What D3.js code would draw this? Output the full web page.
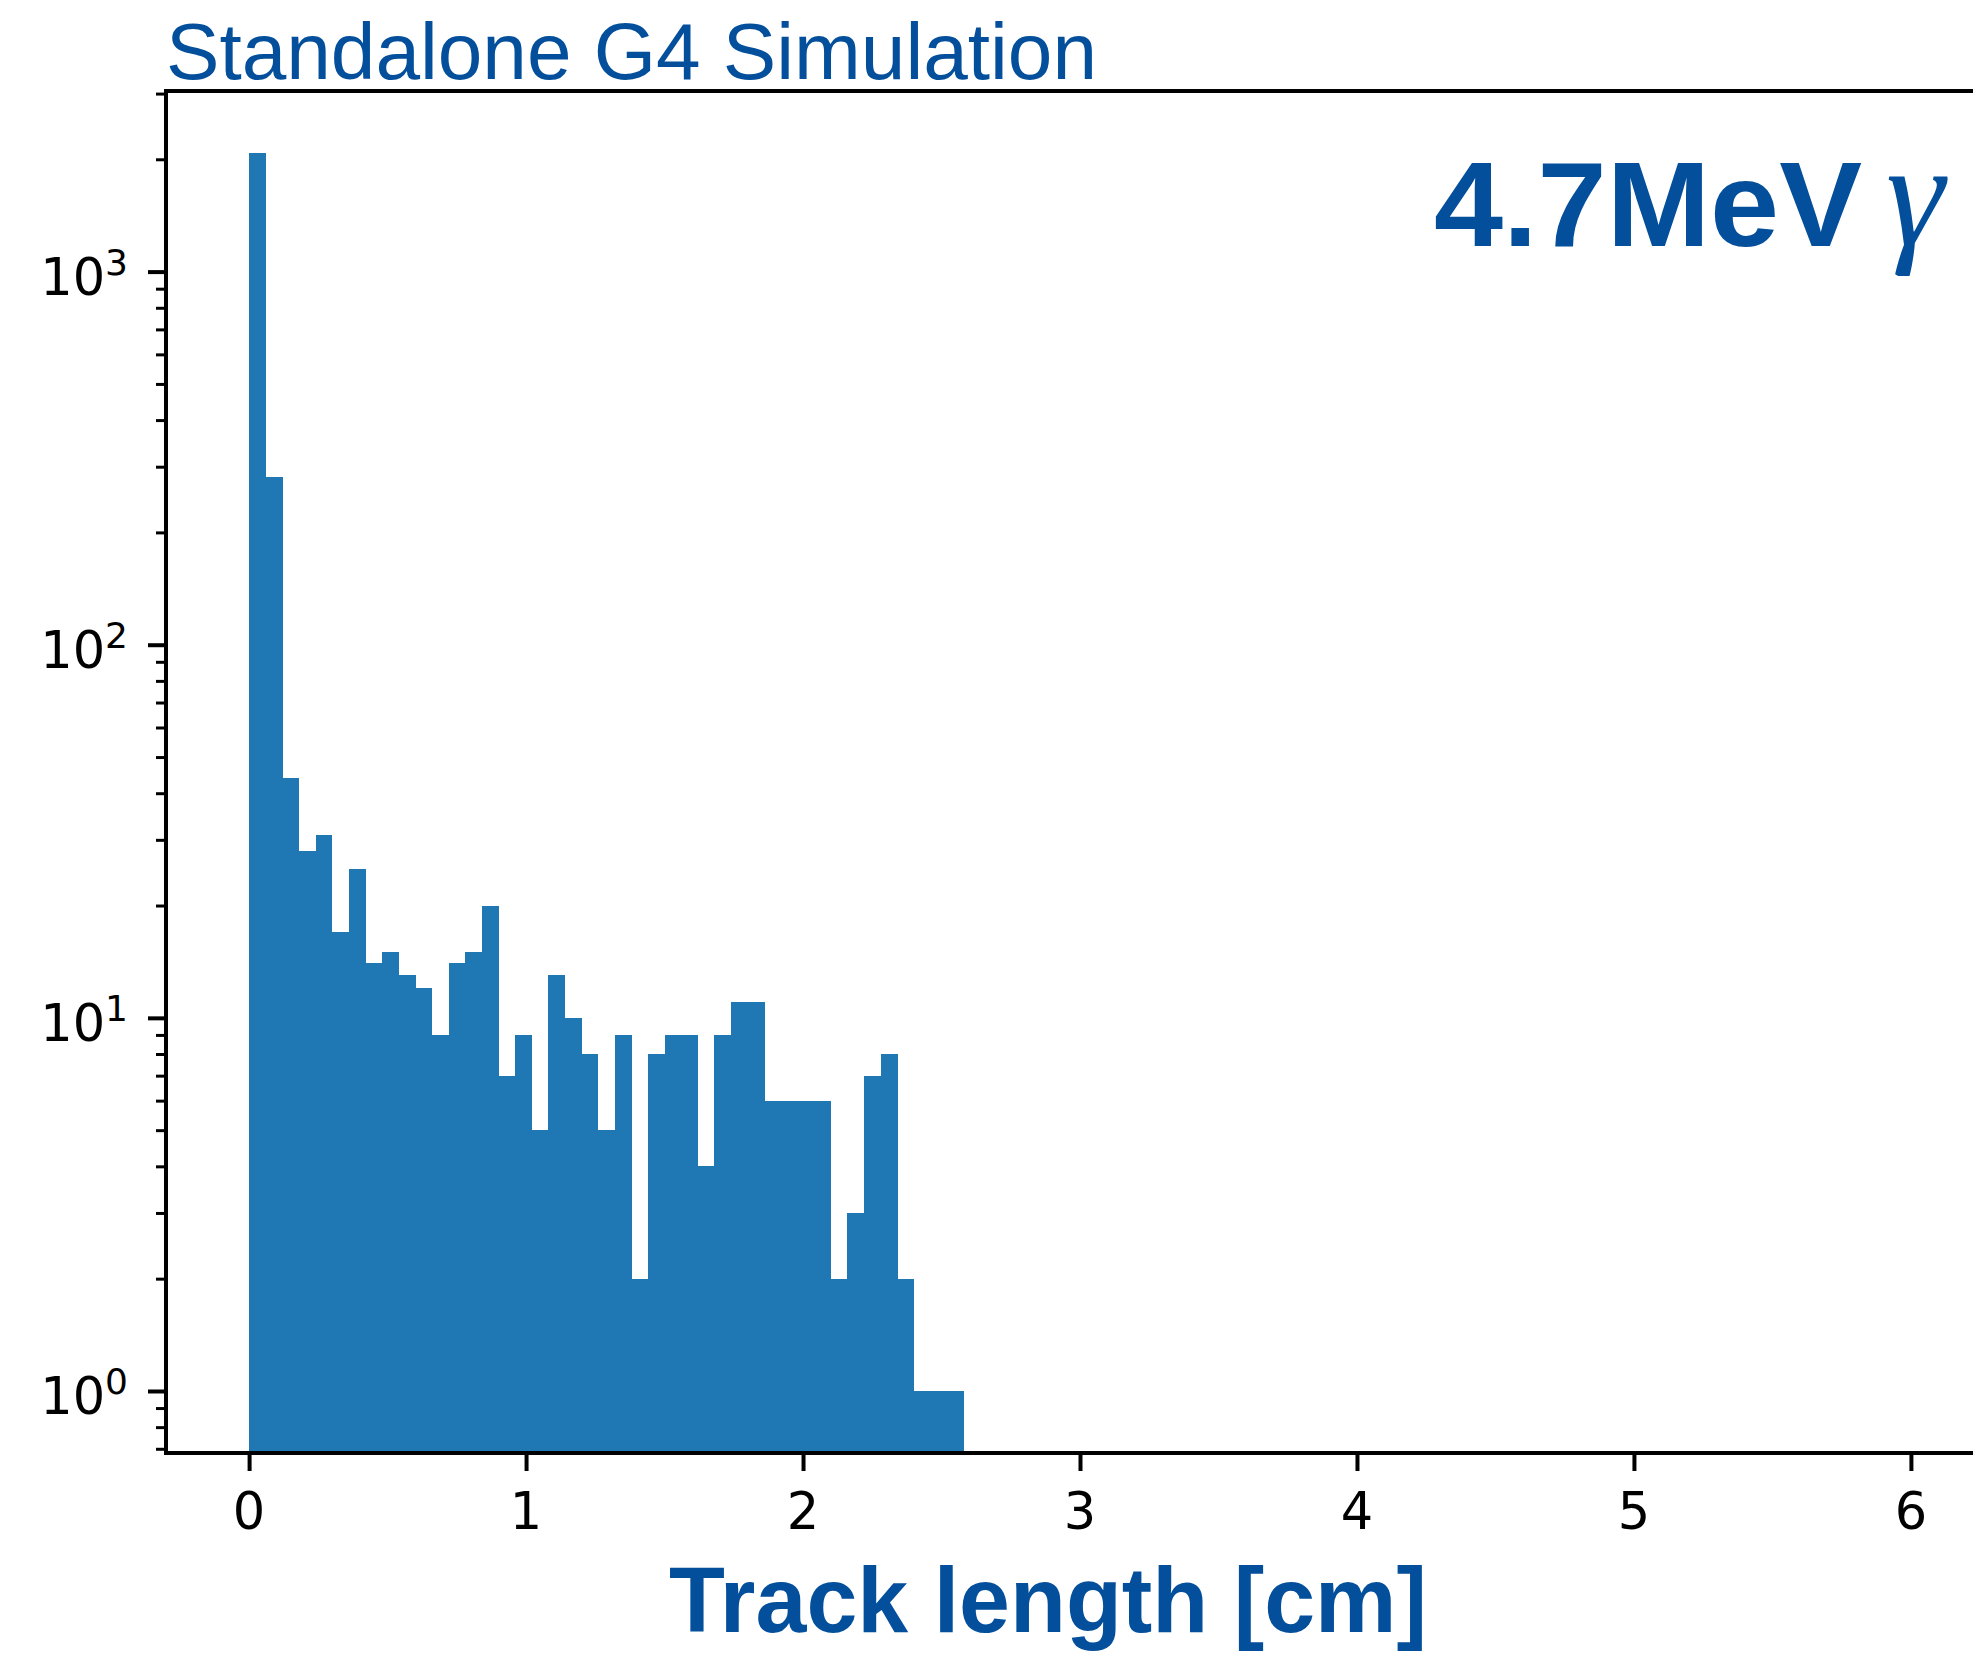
<!DOCTYPE html>
<html><head><meta charset="utf-8">
<script src="https://cdn.jsdelivr.net/npm/d3@7"></script>
<style>body{margin:0;background:#fff;overflow:hidden}</style>
</head><body>
<svg id="c" width="1973" height="1654"></svg>
<script>
// ---- data ----
const binStart = 0;          // histogram range [0, 6], 100 bins
const binWidth = 0.06;
const counts = [2080, 282, 44, 28, 31, 17, 25, 14, 15, 13, 12, 9, 14, 15, 20, 7, 9, 5, 13, 10,
                8, 5, 9, 2, 8, 9, 9, 4, 9, 11, 11, 6, 6, 6, 6, 2, 3, 7, 8, 2, 1, 1, 1];
const xTicks = [0, 1, 2, 3, 4, 5, 6];
const yMajor = [1, 10, 100, 1000];
const yExponents = ["0", "1", "2", "3"];
const xDomain = [-0.3, 6.3];
const yDomain = [0.682, 3048];
const titleText = "Standalone G4 Simulation";
const energyText = "4.7MeV";
const particleText = "γ";
const xLabelText = "Track length [cm]";

// ---- layout ----
const L = 166, R = 1994, T = 91, B = 1453;
const blue = "#034f9b", barColor = "#1f77b4";
const svg = d3.select("#c");
const x = d3.scaleLinear().domain(xDomain).range([L, R]);
const y = d3.scaleLog().domain(yDomain).range([B, T]);

const bins = counts.map((c, i) => ({x0: binStart + i * binWidth, x1: binStart + (i + 1) * binWidth, c}));

svg.append("g").selectAll("rect").data(bins.filter(d => d.c > 0)).join("rect")
  .attr("x", d => x(d.x0))
  .attr("width", d => x(d.x1) - x(d.x0) + 0.3)
  .attr("y", d => y(d.c))
  .attr("height", d => B - y(d.c))
  .attr("fill", barColor)
  .attr("shape-rendering", "crispEdges");

// y minor ticks
const minor = y.ticks().filter(v => !yMajor.includes(v));
const gMin = svg.append("g").attr("transform", `translate(${L},0)`)
  .call(d3.axisLeft(y).tickValues(minor).tickSize(10).tickFormat(""));
gMin.select(".domain").remove();
gMin.selectAll("line").attr("stroke", "#000").attr("stroke-width", 3);

const gMaj = svg.append("g").attr("transform", `translate(${L},0)`)
  .call(d3.axisLeft(y).tickValues(yMajor).tickSize(18).tickFormat(""));
gMaj.select(".domain").remove();
gMaj.selectAll("line").attr("stroke", "#000").attr("stroke-width", 4);

// y labels 10^k
const yl = svg.append("g").selectAll("text").data(yMajor).join("text")
  .attr("x", 128)
  .attr("y", d => y(d) + 23)
  .attr("text-anchor", "end")
  .attr("font-family", "DejaVu Sans")
  .attr("font-size", 51)
  .attr("fill", "#000");
yl.append("tspan").text("10");
yl.append("tspan").attr("dy", -20).attr("font-size", 36).text((d, i) => yExponents[i]);

// x axis ticks
const gx = svg.append("g").attr("transform", `translate(0,${B})`)
  .call(d3.axisBottom(x).tickValues(xTicks).tickSize(18).tickFormat(""));
gx.select(".domain").remove();
gx.selectAll("line").attr("stroke", "#000").attr("stroke-width", 4);

svg.append("g").selectAll("text").data(xTicks).join("text")
  .attr("x", d => x(d))
  .attr("y", 1529)
  .attr("text-anchor", "middle")
  .attr("font-family", "DejaVu Sans")
  .attr("font-size", 51)
  .attr("fill", "#000")
  .text(d => d);

// spines
const sp = svg.append("g").attr("stroke", "#000").attr("stroke-width", 4).attr("stroke-linecap", "square");
sp.append("line").attr("x1", L).attr("x2", L).attr("y1", T).attr("y2", B);
sp.append("line").attr("x1", L).attr("x2", R).attr("y1", B).attr("y2", B);
sp.append("line").attr("x1", L).attr("x2", R).attr("y1", T).attr("y2", T);
sp.append("line").attr("x1", R).attr("x2", R).attr("y1", T).attr("y2", B);

// texts
svg.append("text").attr("x", 166).attr("y", 79)
  .attr("font-family", "Liberation Sans, Arial, sans-serif")
  .attr("font-size", 80).attr("fill", blue)
  .attr("textLength", 931).attr("lengthAdjust", "spacingAndGlyphs")
  .text(titleText);

svg.append("text").attr("x", 1434).attr("y", 246)
  .attr("font-family", "Liberation Sans, Arial, sans-serif")
  .attr("font-weight", "bold")
  .attr("font-size", 121).attr("fill", blue)
  .attr("textLength", 428).attr("lengthAdjust", "spacingAndGlyphs")
  .text(energyText);

svg.append("text").attr("x", 1886).attr("y", 244)
  .attr("font-family", "Liberation Serif, Times New Roman, serif")
  .attr("font-style", "italic")
  .attr("font-size", 148).attr("fill", blue)
  .text(particleText);

svg.append("text").attr("x", 1048).attr("y", 1632)
  .attr("text-anchor", "middle")
  .attr("font-family", "Liberation Sans, Arial, sans-serif")
  .attr("font-weight", "bold")
  .attr("font-size", 92).attr("fill", blue)
  .attr("textLength", 758).attr("lengthAdjust", "spacingAndGlyphs")
  .text(xLabelText);
</script>
</body></html>
